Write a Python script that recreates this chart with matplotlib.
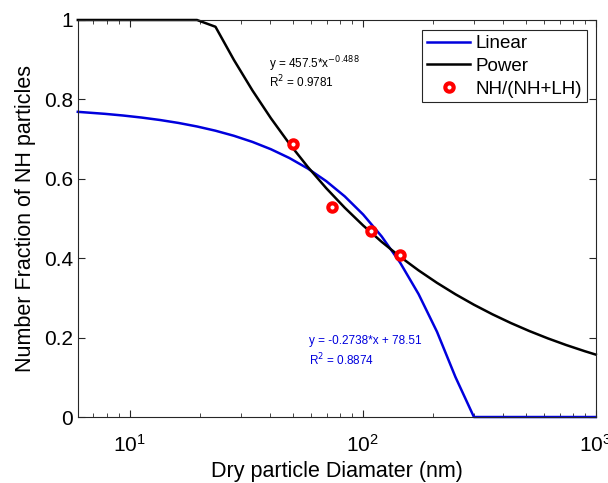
import numpy as np
import matplotlib.pyplot as plt

plt.rcParams['font.family'] = ['Liberation Sans', 'DejaVu Sans']

# measured NH fraction vs dry diameter
diam = [50, 74, 109, 144]
frac = [0.688, 0.528, 0.468, 0.409]

# fit coefficients (fraction in percent)
lin_slope, lin_icpt = -0.2738, 78.51
pow_a, pow_b = 457.5, -0.488

# diameters where the fits are evaluated
d = np.concatenate([[6], 300 * 1.2 ** np.arange(-20, 7), [1000]])
y_lin = np.clip((lin_slope * d + lin_icpt) / 100, 0, 1)
y_pow = np.clip(pow_a * d ** pow_b / 100, 0, 1)

fig = plt.figure(figsize=(6.08, 4.83), dpi=100)
ax = fig.add_axes([0.128, 0.1366, 0.852, 0.822])

ax.plot(d, y_lin, color='#0000dd', lw=1.8, label='Linear', clip_on=False)
ax.plot(d, y_pow, color='black', lw=1.8, label='Power', clip_on=False)
ax.plot(diam, frac, 'o', ms=6, mfc='white', mec='red', mew=3,
        label='NH/(NH+LH)')

ax.set_xscale('log')
ax.set_xlim(6, 1000)
ax.set_ylim(0, 1)
ax.set_yticks([0, 0.2, 0.4, 0.6, 0.8, 1])
ax.set_yticklabels(['0', '0.2', '0.4', '0.6', '0.8', '1'])

for s in ax.spines.values():
    s.set_color('#262626')
    s.set_linewidth(0.8)
ax.tick_params(which='both', direction='in', top=True, right=True,
               colors='#262626', labelcolor='black', labelsize=15)
ax.tick_params(which='major', length=5)
ax.tick_params(which='minor', length=3)
ax.tick_params(axis='x', pad=12)

ax.set_xlabel('Dry particle Diamater (nm)', fontsize=15.5, labelpad=4)
ax.set_ylabel('Number Fraction of NH particles', fontsize=15.5, labelpad=6)

ax.text(39.6, 0.879, 'y = 457.5*x$^{-0.488}$', fontsize=8.5, color='black',
        va='baseline')
ax.text(39.6, 0.831, 'R$^2$ = 0.9781', fontsize=8.5, color='black',
        va='baseline')
ax.text(58.9, 0.184, 'y = -0.2738*x + 78.51', fontsize=8.5, color='#0000dd',
        va='baseline')
ax.text(58.9, 0.131, 'R$^2$ = 0.8874', fontsize=8.5, color='#0000dd',
        va='baseline')

leg = ax.legend(loc='upper right', fontsize=13.5, handlelength=2.3,
                handletextpad=0.3, labelspacing=0.3, borderpad=0.25,
                borderaxespad=0, fancybox=False, framealpha=1,
                bbox_to_anchor=(0.983, 0.974))
leg.get_frame().set_edgecolor('#262626')
leg.get_frame().set_linewidth(0.8)

fig.savefig('out.png', dpi=100)
